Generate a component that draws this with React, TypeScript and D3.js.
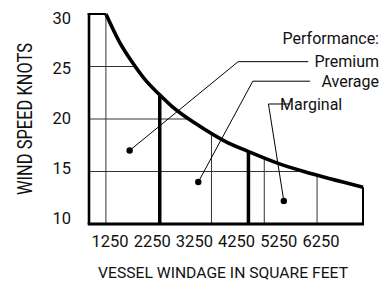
import React from "react";
import * as d3 from "d3";

// Boundary curve (windage sq ft -> wind speed knots)
const curveWindage = [1250, 1500, 1750, 2000, 2250, 2500, 3000, 3500, 4000, 4500, 5000, 5500, 6120];
const curveSpeed = [30, 27.4, 25.4, 23.7, 22.4, 21.2, 19.4, 17.9, 16.8, 15.8, 15.0, 14.3, 13.5];

const xDomain = [930, 6120];
const yDomain = [10, 30];

const yTicks = [10, 15, 20, 25, 30];
const xTickLabels = ["1250", "2250", "3250", "4250", "5250", "6250"];

const gridWindage = [1250, 2250, 3250, 4250, 5250];
const gridSpeed = [15, 20, 25];
const thresholdWindage = [2270, 3950];

const legendTitle = "Performance:";
const categories = ["Premium", "Average", "Marginal"];
const dotWindage = [1700, 3000, 4620];
const dotSpeed = [17.0, 14.0, 12.2];
const elbowWindage = [3755, 4033, 4329];
const elbowSpeed = [25.46, 23.6, 21.43];
const lineEndWindage = [5082, 5119, 4740];

const W = 390;
const H = 282;
const FONT = "Roboto, 'Noto Sans', sans-serif";

export default function App() {
  const x = d3.scaleLinear().domain(xDomain).range([89, 363]);
  const y = d3.scaleLinear().domain(yDomain).range([224, 14]);
  const yLabelPos = d3.scalePoint<number>().domain(yTicks).range([218, 18.5]);
  const xLabelPos = d3.scalePoint<string>().domain(xTickLabels).range([110, 321]);

  const pts = curveWindage.map((w, i) => [w, curveSpeed[i]] as [number, number]);
  const line = d3
    .line<[number, number]>()
    .x((d) => x(d[0]))
    .y((d) => y(d[1]))
    .curve(d3.curveMonotoneX);
  const areaPts: [number, number][] = [[xDomain[0], yDomain[1]], ...pts];
  const area = d3
    .area<[number, number]>()
    .x((d) => x(d[0]))
    .y0(y(yDomain[0]))
    .y1((d) => y(d[1]))
    .curve(d3.curveMonotoneX);

  const last = pts[pts.length - 1];

  return (
    <svg
      width={W}
      height={H}
      style={{ position: "absolute", left: 0, top: 0, background: "#fff" }}
      fontFamily={FONT}
    >
      <defs>
        <clipPath id="under">
          <path d={area(areaPts) || ""} />
        </clipPath>
      </defs>
      <rect width={W} height={H} fill="#fff" />
      {/* grid */}
      <g clipPath="url(#under)">
        {gridWindage.map((g) => (
          <line key={"v" + g} x1={x(g)} x2={x(g)} y1={y(yDomain[0])} y2={y(yDomain[1])} stroke="#333" strokeWidth={1} />
        ))}
        {gridSpeed.map((g) => (
          <line key={"h" + g} x1={x(xDomain[0])} x2={x(xDomain[1])} y1={y(g)} y2={y(g)} stroke="#333" strokeWidth={1} />
        ))}
        {thresholdWindage.map((g) => (
          <line key={"t" + g} x1={x(g)} x2={x(g)} y1={y(yDomain[0])} y2={y(yDomain[1])} stroke="#000" strokeWidth={3.5} />
        ))}
      </g>
      {/* frame */}
      <line x1={x(xDomain[0])} x2={x(xDomain[0])} y1={y(yDomain[0])} y2={y(yDomain[1]) - 1} stroke="#000" strokeWidth={2.6} />
      <line x1={x(xDomain[0]) - 1.3} x2={x(curveWindage[0])} y1={y(yDomain[1])} y2={y(yDomain[1])} stroke="#000" strokeWidth={2} />
      <line x1={x(last[0])} x2={x(last[0])} y1={y(last[1])} y2={y(yDomain[0])} stroke="#000" strokeWidth={2} />
      <line x1={x(xDomain[0]) - 1.3} x2={x(xDomain[1]) + 1} y1={y(yDomain[0])} y2={y(yDomain[0])} stroke="#000" strokeWidth={2.8} />
      <path d={line(pts) || ""} fill="none" stroke="#000" strokeWidth={3.6} />

      {/* y ticks */}
      {yTicks.map((t) => (
        <text key={t} x={71} y={(yLabelPos(t) || 0) + 5.9} textAnchor="end" fontSize={16.5} fill="#111">
          {t}
        </text>
      ))}
      {/* x ticks */}
      {xTickLabels.map((t) => (
        <text key={t} x={xLabelPos(t)} y={246.7} textAnchor="middle" fontSize={16.5} fill="#111">
          {t}
        </text>
      ))}
      {/* axis titles */}
      <text
        transform="translate(31.5,119) rotate(-90)"
        textAnchor="middle"
        fontSize={19.5}
        textLength={152}
        lengthAdjust="spacingAndGlyphs"
        fill="#111"
      >
        WIND SPEED KNOTS
      </text>
      <text x={223} y={278} textAnchor="middle" fontSize={14} textLength={250} lengthAdjust="spacingAndGlyphs" fill="#111">
        VESSEL WINDAGE IN SQUARE FEET
      </text>

      {/* legend / annotations */}
      <text x={379} y={44} textAnchor="end" fontSize={16} fill="#111">
        {legendTitle}
      </text>
      {categories.map((c, i) => {
        const dx = x(dotWindage[i]);
        const dy = y(dotSpeed[i]);
        const ex = x(elbowWindage[i]);
        const ey = y(elbowSpeed[i]);
        const lx = x(lineEndWindage[i]);
        const isEnd = i < 2;
        return (
          <g key={c}>
            <polyline points={`${dx},${dy} ${ex},${ey} ${lx},${ey}`} fill="none" stroke="#000" strokeWidth={1} />
            <circle cx={dx} cy={dy} r={3.2} fill="#000" />
            <text
              x={isEnd ? 379 : 280}
              y={ey + 5.8}
              textAnchor={isEnd ? "end" : "start"}
              fontSize={16}
              fill="#111"
            >
              {c}
            </text>
          </g>
        );
      })}
    </svg>
  );
}
